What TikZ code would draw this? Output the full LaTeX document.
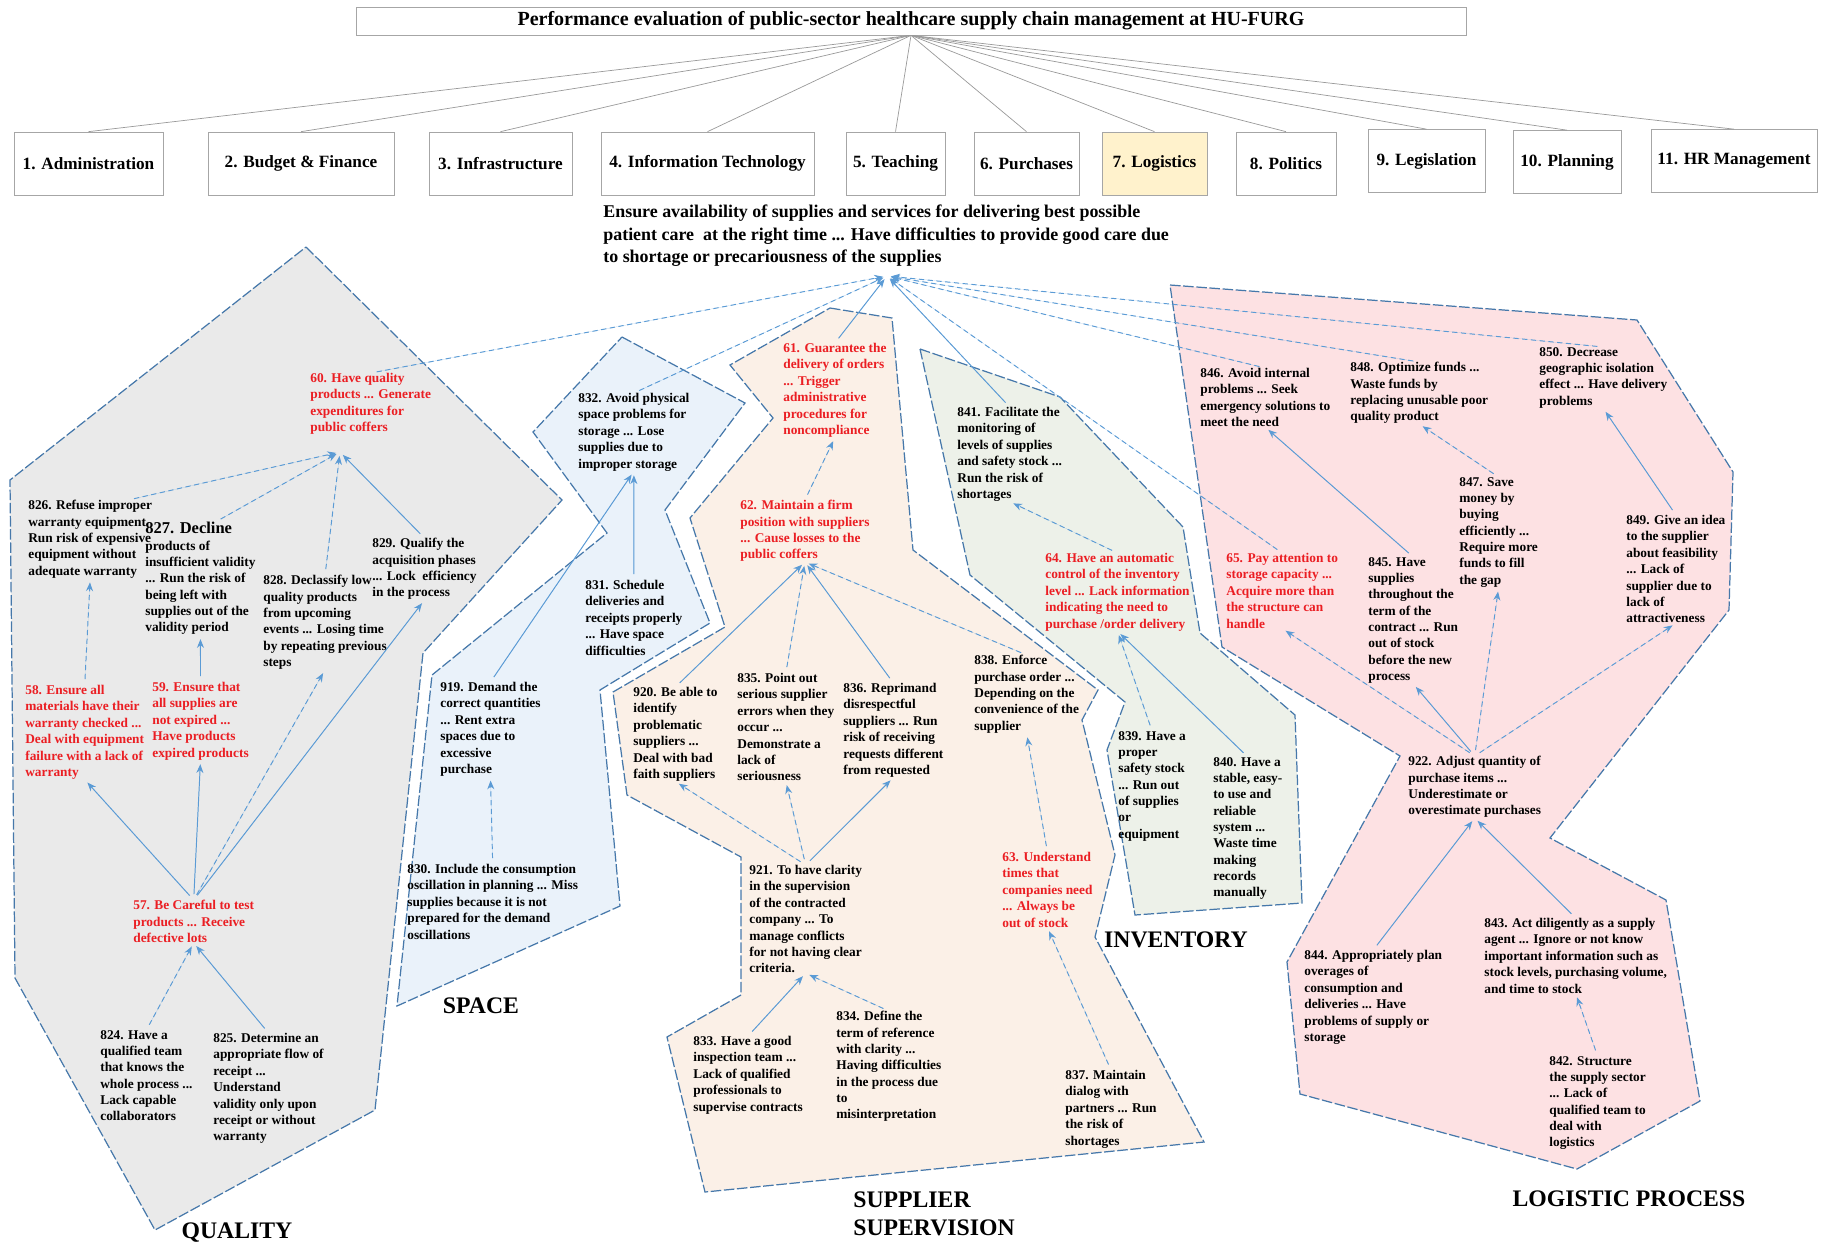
\documentclass[tikz,border=0pt]{standalone}
\usepackage{fontspec}
\setmainfont{Liberation Serif}
\usetikzlibrary{arrows.meta,calc}

\definecolor{linkblue}{RGB}{91,155,213}
\definecolor{edgeblue}{RGB}{70,120,170}
\definecolor{riskred}{RGB}{235,30,35}
\definecolor{qualfill}{RGB}{234,234,234}
\definecolor{spacefill}{RGB}{234,242,250}
\definecolor{supfill}{RGB}{251,240,231}
\definecolor{invfill}{RGB}{237,241,233}
\definecolor{logfill}{RGB}{253,225,227}
\definecolor{logihl}{RGB}{255,242,204}

\begin{document}
\begin{tikzpicture}[x=0.2mm, y=-0.2mm, >={Stealth[length=5pt,width=4pt]},
  catbox/.style={draw=black!35, line width=0.4pt, fill=white, inner sep=0pt,
    minimum height=12.6mm, font=\fontsize{9.8}{11}\selectfont\bfseries},
  fan/.style={draw=black!40, line width=0.4pt},
  region/.style={draw=edgeblue, line width=0.7pt, dash pattern=on 6pt off 1.5pt},
  txt/.style={anchor=north west, align=left, inner sep=0pt,
    font=\fontsize{7.6}{9.3}\selectfont\bfseries},
  redtxt/.style={txt, text=riskred},
  zone/.style={font=\fontsize{13.5}{16}\selectfont\bfseries, inner sep=0pt},
  link/.style={->, draw=linkblue, fill=linkblue, line width=0.55pt,
    shorten <=1.2mm, shorten >=0.8mm},
  dlink/.style={link, dash pattern=on 3pt off 2pt}]

  \useasboundingbox (0,0) rectangle (1829,1245);

  % clusters behind everything
  \filldraw[region, fill=qualfill] (306,247) -- (562,500) -- (423,653) -- (375,1110)
    -- (155,1230) -- (15,978) -- (10,480) -- cycle;
  \filldraw[region, fill=spacefill] (622,337) -- (745,403) -- (665,510) -- (710,623)
    -- (600,690) -- (620,906) -- (397,1006) -- (432,675) -- (607,533) -- (533,432) -- cycle;
  \filldraw[region, fill=supfill] (830,308) -- (892,318) -- (913,550) -- (1098,690)
    -- (1082,720) -- (1115,855) -- (1095,937) -- (1204,1142) -- (705,1192) -- (667,1037)
    -- (741,995) -- (741,857) -- (627,795) -- (613,692) -- (725,627) -- (690,518)
    -- (773,418) -- (730,365) -- cycle;
  \filldraw[region, fill=invfill] (920,349) -- (1060,397) -- (1183,527) -- (1200,633)
    -- (1295,715) -- (1302,903) -- (1135,915) -- (1107,750) -- (1125,702) -- (970,575) -- cycle;
  \filldraw[region, fill=logfill] (1170,285) -- (1637,320) -- (1733,472) -- (1729,610)
    -- (1550,838) -- (1666,900) -- (1700,1101) -- (1577,1169) -- (1300,1094)
    -- (1287,962) -- (1400,756) -- (1222,647) -- cycle;

  % top level
  \node[draw=black!35, line width=0.4pt, minimum width=222mm, minimum height=5.6mm,
    inner sep=0pt, font=\fontsize{11.4}{13}\selectfont\bfseries] (title) at (911,21)
    {Performance evaluation of public-sector healthcare supply chain management at HU-FURG};

  \node[catbox, minimum width=29.8mm] (c1) at (88.5,163.5) {1. Administration};
  \node[catbox, minimum width=37.2mm] (c2) at (301,163.5) {2. Budget \& Finance};
  \node[catbox, minimum width=28.6mm] (c3) at (500.5,163.5) {3. Infrastructure};
  \node[catbox, minimum width=42.6mm] (c4) at (707.5,163.5) {4. Information Technology};
  \node[catbox, minimum width=19.8mm] (c5) at (895.5,163.5) {5. Teaching};
  \node[catbox, minimum width=21mm] (c6) at (1026.5,163.5) {6. Purchases};
  \node[catbox, minimum width=21mm, fill=logihl] (c7) at (1154.5,163.5) {7. Logistics};
  \node[catbox, minimum width=20mm] (c8) at (1286,163.5) {8. Politics};
  \node[catbox, minimum width=23.4mm] (c9) at (1426.5,161) {9. Legislation};
  \node[catbox, minimum width=21.6mm] (c10) at (1567,162) {10. Planning};
  \node[catbox, minimum width=33.2mm] (c11) at (1734,161) {11. HR Management};

  \foreach \c in {1,...,11}
    \draw[fan] (title.south) -- (c\c.north);

  \node[anchor=north west, align=left, inner sep=0pt,
    font=\fontsize{10.2}{12.6}\selectfont\bfseries] (goal) at (603,205)
    {Ensure availability of supplies and services for delivering best possible\\
     patient care\ \ at the right time ... Have difficulties to provide good care due\\
     to shortage or precariousness of the supplies};
  \coordinate (hub) at ($(goal.north west)+(284,71)$);

  % quality
  \node[redtxt] (n60) at (310,373) {60. Have quality\\products ... Generate\\expenditures for\\public coffers};
  \node[txt] (n826) at (28,500) {826. Refuse improper\\warranty equipment\\Run risk of expensive\\equipment without\\adequate warranty};
  \node[txt] (n827) at (145,522) {{\fontsize{9.4}{9.3}\selectfont 827. Decline}\\products of\\insufficient validity\\... Run the risk of\\being left with\\supplies out of the\\validity period};
  \node[txt] (n828) at (263,575) {828. Declassify low\\quality products\\from upcoming\\events ... Losing time\\by repeating previous\\steps};
  \node[txt] (n829) at (372,538) {829. Qualify the\\acquisition phases\\... Lock\ \ efficiency\\in the process};
  \node[redtxt] (n58) at (25,685) {58. Ensure all\\materials have their\\warranty checked ...\\Deal with equipment\\failure with a lack of\\warranty};
  \node[redtxt] (n59) at (152,682) {59. Ensure that\\all supplies are\\not expired ...\\Have products\\expired products};
  \node[redtxt] (n57) at (133,900) {57. Be Careful to test\\products ... Receive\\defective lots};
  \node[txt] (n824) at (100,1030) {824. Have a\\qualified team\\that knows the\\whole process ...\\Lack capable\\collaborators};
  \node[txt] (n825) at (213,1033) {825. Determine an\\appropriate flow of\\receipt ...\\Understand\\validity only upon\\receipt or without\\warranty};
  \coordinate (q60) at ($(n60.north west)+(30,79)$);

  % space
  \node[txt] (n832) at (578,393) {832. Avoid physical\\space problems for\\storage ... Lose\\supplies due to\\improper storage};
  \node[txt] (n831) at (585,580) {831. Schedule\\deliveries and\\receipts properly\\... Have space\\difficulties};
  \node[txt] (n919) at (440,682) {919. Demand the\\correct quantities\\... Rent extra\\spaces due to\\excessive\\purchase};
  \node[txt] (n830) at (407,864) {830. Include the consumption\\oscillation in planning ... Miss\\supplies because it is not\\prepared for the demand\\oscillations};

  % supplier supervision
  \node[redtxt] (n61) at (783,343) {61. Guarantee the\\delivery of orders\\... Trigger\\administrative\\procedures for\\noncompliance};
  \node[redtxt] (n62) at (740,500) {62. Maintain a firm\\position with suppliers\\... Cause losses to the\\public coffers};
  \node[txt] (n920) at (633,687) {920. Be able to\\identify\\problematic\\suppliers ...\\Deal with bad\\faith suppliers};
  \node[txt] (n835) at (737,673) {835. Point out\\serious supplier\\errors when they\\occur ...\\Demonstrate a\\lack of\\seriousness};
  \node[txt] (n836) at (843,683) {836. Reprimand\\disrespectful\\suppliers ... Run\\risk of receiving\\requests different\\from requested};
  \node[txt] (n838) at (974,655) {838. Enforce\\purchase order ...\\Depending on the\\convenience of the\\supplier};
  \node[redtxt] (n63) at (1002,852) {63. Understand\\times that\\companies need\\... Always be\\out of stock};
  \node[txt] (n921) at (749,865) {921. To have clarity\\in the supervision\\of the contracted\\company ... To\\manage conflicts\\for not having clear\\criteria.};
  \node[txt] (n833) at (693,1036) {833. Have a good\\inspection team ...\\Lack of qualified\\professionals to\\supervise contracts};
  \node[txt] (n834) at (836,1011) {834. Define the\\term of reference\\with clarity ...\\Having difficulties\\in the process due\\to\\misinterpretation};
  \node[txt] (n837) at (1065,1070) {837. Maintain\\dialog with\\partners ... Run\\the risk of\\shortages};

  % inventory
  \node[txt] (n841) at (957,407) {841. Facilitate the\\monitoring of\\levels of supplies\\and safety stock ...\\Run the risk of\\shortages};
  \node[redtxt] (n64) at (1045,553) {64. Have an automatic\\control of the inventory\\level ... Lack information\\indicating the need to\\purchase /order delivery};
  \node[txt] (n839) at (1118,731) {839. Have a\\proper\\safety stock\\... Run out\\of supplies\\or\\equipment};
  \node[txt] (n840) at (1213,757) {840. Have a\\stable, easy-\\to use and\\reliable\\system ...\\Waste time\\making\\records\\manually};

  % logistic process
  \node[txt] (n846) at (1200,368) {846. Avoid internal\\problems ... Seek\\emergency solutions to\\meet the need};
  \node[txt] (n848) at (1350,362) {848. Optimize funds ...\\Waste funds by\\replacing unusable poor\\quality product};
  \node[txt] (n850) at (1539,347) {850. Decrease\\geographic isolation\\effect ... Have delivery\\problems};
  \node[redtxt] (n65) at (1226,553) {65. Pay attention to\\storage capacity ...\\Acquire more than\\the structure can\\handle};
  \node[txt] (n845) at (1368,557) {845. Have\\supplies\\throughout the\\term of the\\contract ... Run\\out of stock\\before the new\\process};
  \node[txt] (n847) at (1459,477) {847. Save\\money by\\buying\\efficiently ...\\Require more\\funds to fill\\the gap};
  \node[txt] (n849) at (1626,515) {849. Give an idea\\to the supplier\\about feasibility\\... Lack of\\supplier due to\\lack of\\attractiveness};
  \node[txt] (n922) at (1408,756) {922. Adjust quantity of\\purchase items ...\\Underestimate or\\overestimate purchases};
  \node[txt] (n843) at (1484,918) {843. Act diligently as a supply\\agent ... Ignore or not know\\important information such as\\stock levels, purchasing volume,\\and time to stock};
  \node[txt] (n844) at (1304,950) {844. Appropriately plan\\overages of\\consumption and\\deliveries ... Have\\problems of supply or\\storage};
  \node[txt] (n842) at (1549,1056) {842. Structure\\the supply sector\\... Lack of\\qualified team to\\deal with\\logistics};

  % cluster names
  \node[zone] (zq) at (237,1233) {QUALITY};
  \node[zone] (zs) at (481,1006) {SPACE};
  \node[zone] (zi) at (1176,940) {INVENTORY};
  \node[zone, anchor=west, align=left] (zsup) at (853,1214) {SUPPLIER\\SUPERVISION};
  \node[zone] (zl) at (1629,1199) {LOGISTIC PROCESS};

  % links up to the goal
  \draw[dlink] (n60.north) -- (hub);
  \draw[dlink] (n832.north) -- (hub);
  \draw[link] (n61.north) -- (hub);
  \draw[link] (n841.north) -- (hub);
  \draw[dlink] (n65.north) -- (hub);
  \draw[dlink] (n846.north) -- (hub);
  \draw[dlink] (n848.north) -- (hub);
  \draw[dlink] (n850.north) -- (hub);

  % quality links
  \draw[dlink] ($(n826.north)+(38,0)$) -- (q60);
  \draw[dlink] ($(n827.north)+(15,0)$) -- (q60);
  \draw[dlink] (n828.north) -- (q60);
  \draw[link] (n829.north) -- (q60);
  \draw[dlink] (n58.north) -- (n826.south);
  \draw[link] (n59.north) -- (n827.south);
  \draw[link] (n57.north) -- (n58.south);
  \draw[link] (n57.north) -- (n59.south);
  \draw[dlink] (n57.north) -- (n828.south);
  \draw[link] (n57.north) -- (n829.south);
  \draw[dlink] (n824.north) -- (n57.south);
  \draw[link] (n825.north) -- (n57.south);

  % space links
  \draw[link] (n831.north) -- (n832.south);
  \draw[link] (n919.north) -- (n832.south);
  \draw[dlink] (n830.north) -- (n919.south);

  % supplier links
  \draw[dlink] (n62.north) -- (n61.south);
  \draw[link] (n920.north) -- (n62.south);
  \draw[dlink] (n835.north) -- (n62.south);
  \draw[link] (n836.north) -- (n62.south);
  \draw[dlink] (n838.north) -- (n62.south);
  \draw[dlink] (n921.north) -- (n920.south);
  \draw[dlink] (n921.north) -- (n835.south);
  \draw[link] (n921.north) -- (n836.south);
  \draw[link] (n833.north) -- (n921.south);
  \draw[dlink] (n834.north) -- (n921.south);
  \draw[dlink] (n63.north) -- (n838.south);
  \draw[dlink] (n837.north) -- (n63.south);

  % inventory links
  \draw[dlink] (n64.north) -- (n841.south);
  \draw[dlink] (n839.north) -- (n64.south);
  \draw[link] (n840.north) -- (n64.south);

  % logistic links
  \draw[link] (n845.north) -- (n846.south);
  \draw[dlink] (n847.north) -- (n848.south);
  \draw[link] (n849.north) -- (n850.south);
  \draw[dlink] (n922.north) -- (n65.south);
  \draw[link] (n922.north) -- (n845.south);
  \draw[dlink] (n922.north) -- (n847.south);
  \draw[dlink] (n922.north) -- (n849.south);
  \draw[link] (n844.north) -- (n922.south);
  \draw[link] (n843.north) -- (n922.south);
  \draw[dlink] (n842.north) -- (n843.south);
\end{tikzpicture}
\end{document}
